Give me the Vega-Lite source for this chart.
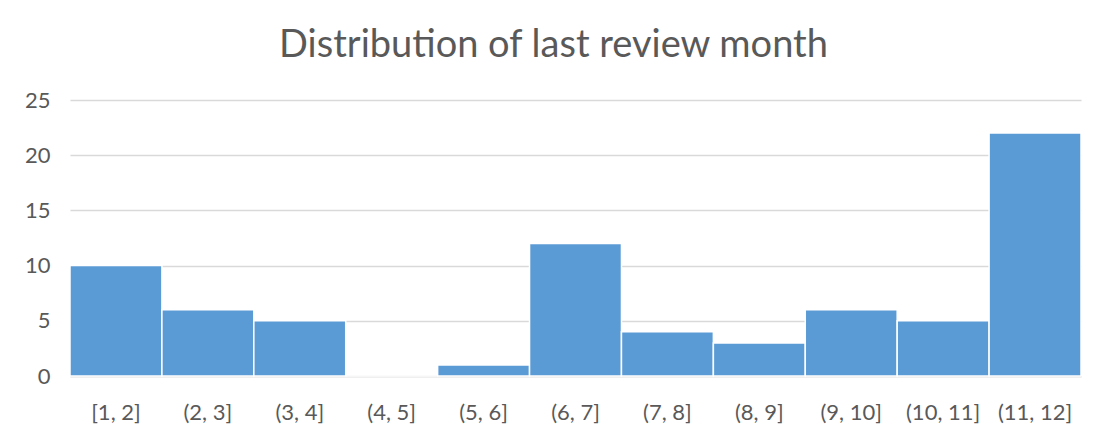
{
  "$schema": "https://vega.github.io/schema/vega-lite/v6.json",
  "width": 1011,
  "height": 276,
  "autosize": "none",
  "padding": {"left": 70, "top": 100, "right": 20, "bottom": 64},
  "background": "white",
  "title": {
    "text": "Distribution of last review month",
    "font": "Lato",
    "fontSize": 38,
    "fontWeight": "normal",
    "color": "#595959",
    "anchor": "middle",
    "frame": "group",
    "baseline": "alphabetic",
    "offset": 40,
    "dx": -22,
    "dy": 46
  },
  "data": {
    "values": [
      {"bin": "[1, 2]", "count": 10},
      {"bin": "(2, 3]", "count": 6},
      {"bin": "(3, 4]", "count": 5},
      {"bin": "(4, 5]", "count": 0},
      {"bin": "(5, 6]", "count": 1},
      {"bin": "(6, 7]", "count": 12},
      {"bin": "(7, 8]", "count": 4},
      {"bin": "(8, 9]", "count": 3},
      {"bin": "(9, 10]", "count": 6},
      {"bin": "(10, 11]", "count": 5},
      {"bin": "(11, 12]", "count": 22}
    ]
  },
  "mark": {"type": "bar", "color": "#5b9bd5", "stroke": "white", "strokeWidth": 1.5},
  "encoding": {
    "x": {
      "field": "bin",
      "type": "ordinal",
      "sort": null,
      "scale": {"paddingInner": 0, "paddingOuter": 0},
      "axis": {
        "title": null,
        "labelAngle": 0,
        "labelFont": "Lato",
        "labelFontSize": 22,
        "labelColor": "#595959",
        "labelPadding": 26,
        "ticks": false,
        "domain": true,
        "domainColor": "#d9d9d9",
        "domainWidth": 1.5
      }
    },
    "y": {
      "field": "count",
      "type": "quantitative",
      "scale": {"domain": [0, 25], "nice": false},
      "axis": {
        "title": null,
        "values": [0, 5, 10, 15, 20, 25],
        "labelFont": "Lato",
        "labelFontSize": 22,
        "labelColor": "#595959",
        "labelPadding": 20,
        "ticks": false,
        "domain": false,
        "gridColor": "#d9d9d9",
        "gridWidth": 1.5
      }
    }
  },
  "config": {"view": {"stroke": null}}
}
